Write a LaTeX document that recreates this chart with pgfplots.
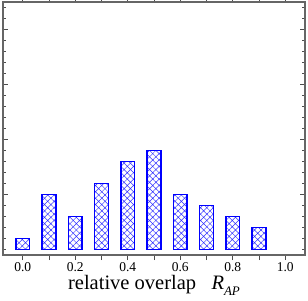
\documentclass[border=0pt]{standalone}
\usepackage{pgfplots}
\pgfplotsset{compat=1.18}
\usepackage{fontspec}
\setmainfont{Liberation Serif}
\usetikzlibrary{patterns.meta}
\begin{document}
\begin{tikzpicture}
\useasboundingbox (-3pt,-45pt) rectangle (305pt,255pt);
\begin{axis}[
  scale only axis,
  width=302pt, height=253pt,
  xmin=-0.075, xmax=1.075,
  ymin=-0.5, ymax=22.45,
  axis line style={draw=black!60, line width=1.2pt},
  tick style={draw=black!70, line width=0.9pt},
  tick align=inside,
  xtick={0,0.1,...,1.0},
  xticklabels={0.0,,0.2,,0.4,,0.6,,0.8,,1.0},
  major tick length=5pt,
  minor tick length=3pt,
  ytick={5,10,15,20},
  minor ytick={0,1,2,3,4,6,7,8,9,11,12,13,14,16,17,18,19,21,22},
  yticklabels={},
  xtick pos=both, ytick pos=both,
  /pgf/number format/assume math mode=true,
  xticklabel style={font=\fontsize{13.5}{14}\selectfont, yshift=1.5pt},
  xlabel={relative overlap\ \ \ {\itshape R}\raisebox{-5.5pt}{\fontsize{13}{13}\selectfont\itshape AP}},
  xlabel style={font=\fontsize{20.5}{20}\selectfont, yshift=2.5pt},
  ybar, bar width=0.052,
]
\addplot[draw=blue, line width=1.5pt, pattern={Hatch[angle=45, distance=4.5pt, line width=0.5pt]}, pattern color=blue!80]
coordinates {(0.0,1) (0.1,5) (0.2,3) (0.3,6) (0.4,8) (0.5,9) (0.6,5) (0.7,4) (0.8,3) (0.9,2)};
\end{axis}
\end{tikzpicture}
\end{document}
